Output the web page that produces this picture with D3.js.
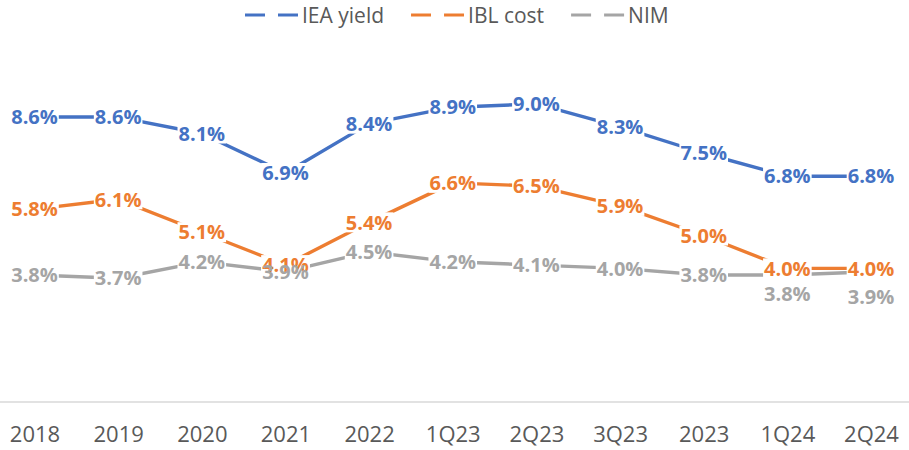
<!DOCTYPE html>
<html>
<head>
<meta charset="utf-8">
<script src="https://cdn.jsdelivr.net/npm/d3@7"></script>
<style>
  body { margin: 0; background: #fff; }
  svg { display: block; font-family: "Open Sans", sans-serif; }
</style>
</head>
<body>
<svg id="chart" width="909" height="450"></svg>
<script>
// chart data
const categories = ["2018", "2019", "2020", "2021", "2022", "1Q23", "2Q23", "3Q23", "2023", "1Q24", "2Q24"];
const ieaYield = [8.6, 8.6, 8.1, 6.9, 8.4, 8.9, 9.0, 8.3, 7.5, 6.8, 6.8];
const iblCost  = [5.8, 6.1, 5.1, 4.1, 5.4, 6.6, 6.5, 5.9, 5.0, 4.0, 4.0];
const nim      = [3.8, 3.7, 4.2, 3.9, 4.5, 4.2, 4.1, 4.0, 3.8, 3.8, 3.9];
const seriesNames = ["IEA yield", "IBL cost", "NIM"];

// layout (label nudges, in px, for labels moved off their point)
const labelShift = { "NIM": { "1Q24": 19, "2Q24": 25 } };

const series = [
  { name: seriesNames[0], values: ieaYield, color: "#4472C4" },
  { name: seriesNames[1], values: iblCost,  color: "#ED7D31" },
  { name: seriesNames[2], values: nim,      color: "#A5A5A5" }
];

const svg = d3.select("#chart");
const W = 909, H = 450;

const x = d3.scalePoint().domain(categories).range([34.5, 871]);
const y = d3.scaleLinear().domain([0, 10]).range([400, 71]);

// axis line + labels
const xAxis = d3.axisBottom(x).tickSize(0).tickPadding(24);
const ax = svg.append("g").attr("transform", "translate(0,402)").call(xAxis);
ax.select(".domain").remove();
ax.append("line").attr("x1", 0).attr("x2", W).attr("stroke", "#d9d9d9").attr("stroke-width", 1.5);
ax.selectAll(".tick text")
  .attr("font-family", "'Open Sans', sans-serif")
  .attr("font-size", 22)
  .attr("fill", "#595959");

// lines are masked wherever a data label sits
const defs = svg.append("defs");
const mask = defs.append("mask").attr("id", "lblmask").attr("maskUnits", "userSpaceOnUse")
  .attr("x", 0).attr("y", 0).attr("width", W).attr("height", H);
mask.append("rect").attr("width", W).attr("height", H).attr("fill", "#fff");

const linesG = svg.append("g").attr("mask", "url(#lblmask)");
const labelsG = svg.append("g");

const line = d3.line().x((d, i) => x(categories[i])).y(d => y(d));

series.forEach(s => {
  linesG.append("path")
    .datum(s.values)
    .attr("d", line)
    .attr("fill", "none")
    .attr("stroke", s.color)
    .attr("stroke-width", 3.4)
    .attr("stroke-linejoin", "round");

  const shifts = labelShift[s.name] || {};
  s.values.forEach((v, i) => {
    const cx = x(categories[i]);
    const cy = y(v) + (shifts[categories[i]] || 0);
    const t = labelsG.append("text")
      .attr("x", cx).attr("y", cy).attr("dy", "0.36em")
      .attr("text-anchor", "middle")
      .attr("font-size", 20).attr("font-weight", 700)
      .attr("fill", s.color)
      .text(v.toFixed(1) + "%");
    const w = t.node().getComputedTextLength();
    mask.append("rect")
      .attr("x", cx - w / 2 - 1).attr("y", cy - 10)
      .attr("width", w + 2).attr("height", 20)
      .attr("fill", "#000");
  });
});

// legend
const leg = svg.append("g").attr("transform", "translate(0,15)");
let lx = 245;
series.forEach(s => {
  leg.append("line").attr("x1", lx).attr("x2", lx + 20).attr("stroke", s.color).attr("stroke-width", 3);
  leg.append("line").attr("x1", lx + 33).attr("x2", lx + 53).attr("stroke", s.color).attr("stroke-width", 3);
  const t = leg.append("text")
    .attr("x", lx + 57).attr("dy", "0.36em")
    .attr("font-size", 21).attr("fill", "#595959")
    .text(s.name);
  lx = lx + 57 + t.node().getComputedTextLength() + 27;
});
</script>
</body>
</html>
